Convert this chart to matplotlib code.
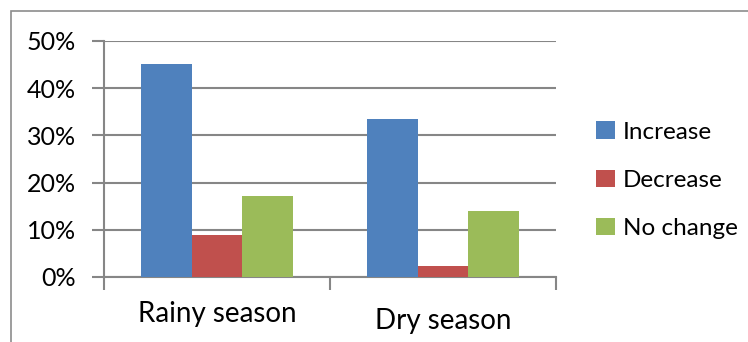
import numpy as np
import matplotlib.pyplot as plt
from matplotlib.patches import Rectangle

seasons = ['Rainy season', 'Dry season']
series = ['Increase', 'Decrease', 'No change']
increase = [45.2, 33.5]
decrease = [8.9, 2.4]
no_change = [17.2, 14.0]
colors = ['#4f81bd', '#c0504d', '#9bbb59']

plt.rcParams['font.family'] = ['Lato', 'DejaVu Sans']

fig = plt.figure(figsize=(7.48, 3.42), dpi=100)
ax = fig.add_axes([104 / 748, 1 - 277 / 342, 452 / 748, 236 / 342])

# thin gray frame round the whole chart
fig.patches.append(Rectangle((11 / 748, -0.05), 1.1, 1 - 11 / 342 + 0.05,
                             transform=fig.transFigure, fill=False,
                             edgecolor='#8c8c8c', linewidth=1.2))

x = np.arange(len(seasons))
w = 0.223
for i, (vals, name) in enumerate(zip([increase, decrease, no_change], series)):
    ax.bar(x + (i - 1) * w, vals, w, color=colors[i], label=name, zorder=3)

ax.set_xlim(-0.5, 1.5)
ax.set_ylim(0, 50)
ax.set_yticks(range(0, 51, 10))
ax.set_yticklabels([f'{v}%' for v in range(0, 51, 10)], fontsize=18)
ax.yaxis.grid(True, color='#868686', linewidth=1.5, zorder=0)
ax.tick_params(axis='y', length=9, width=1.5, color='#868686', pad=11)
ax.set_xticks([-0.5, 0.5, 1.5])
ax.set_xticklabels([])
ax.tick_params(axis='x', length=9, width=1.5, color='#868686')
for side in ['top', 'right']:
    ax.spines[side].set_visible(False)
for side in ['left', 'bottom']:
    ax.spines[side].set_color('#868686')
    ax.spines[side].set_linewidth(1.5)

# category names sit under each group
label_y = [-0.155, -0.185]
for xi, name, yy in zip(x, seasons, label_y):
    ax.text(xi, yy, name, transform=ax.get_xaxis_transform(),
            ha='center', va='center', fontsize=20)

ax.legend(loc='center left', bbox_to_anchor=(1.068, 0.41), frameon=False,
          fontsize=17.5, handlelength=0.75, handleheight=0.75,
          labelspacing=1.1, handletextpad=0.35, borderaxespad=0)

fig.savefig('out.png', dpi=100)
